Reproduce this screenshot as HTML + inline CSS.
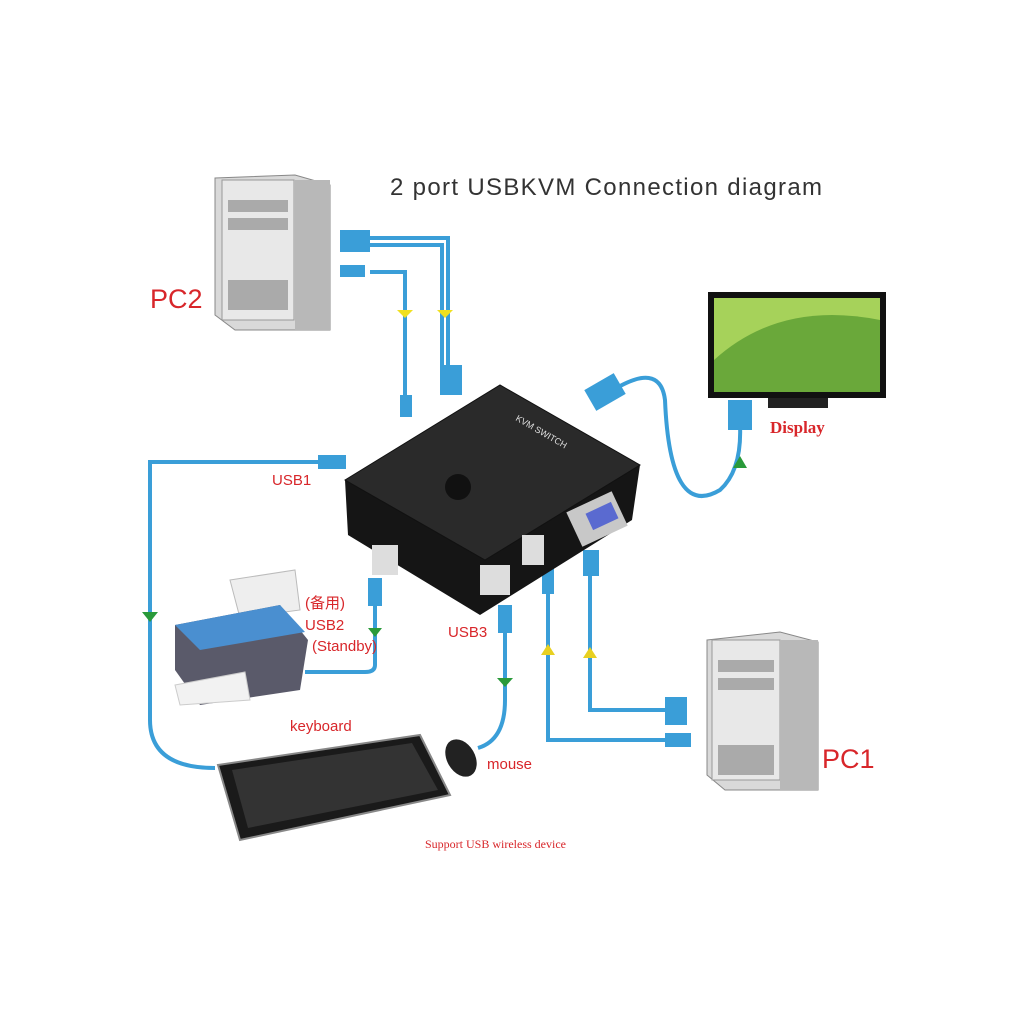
<!DOCTYPE html>
<html><head><meta charset="utf-8"><style>
html,body{margin:0;padding:0;background:#fff;}
svg{display:block}
</style></head><body>
<svg width="1024" height="1024" viewBox="0 0 1024 1024" xmlns="http://www.w3.org/2000/svg">
<rect width="1024" height="1024" fill="#fff"/>
<text x="390" y="195" font-family="Liberation Sans, sans-serif" font-size="24" fill="#333" textLength="432" lengthAdjust="spacing">2 port  USBKVM  Connection diagram</text>

<g fill="none" stroke="#3a9ed8" stroke-width="4">
<path d="M370 238 H448 V370"/><path d="M370 245 H442 V370"/>
<path d="M370 272 H405 V400"/>
<path d="M330 462 H150 V720 Q150 768 215 768"/>
<path d="M375 595 V665 Q375 672 365 672 H305"/>
<path d="M505 615 V700 Q505 740 478 748"/>
<path d="M590 570 V710 H665"/>
<path d="M548 580 V740 H665"/>
<path d="M610 392 Q660 360 665 400 Q670 520 720 490 Q742 470 740 425"/>
</g>
<g fill="#3a9ed8">
<rect x="340" y="230" width="30" height="22"/><rect x="340" y="265" width="25" height="12"/>
<rect x="440" y="365" width="22" height="30"/><rect x="400" y="395" width="12" height="22"/>
<rect x="318" y="455" width="28" height="14"/><rect x="368" y="578" width="14" height="28"/>
<rect x="498" y="605" width="14" height="28"/><rect x="583" y="550" width="16" height="26"/>
<rect x="542" y="568" width="12" height="26"/><rect x="665" y="697" width="22" height="28"/>
<rect x="665" y="733" width="26" height="14"/><rect x="588" y="380" width="34" height="24" transform="rotate(-30 605 392)"/>
<rect x="728" y="400" width="24" height="30"/>
</g>
<g fill="#f0e020"><polygon points="397,310 413,310 405,318"/><polygon points="437,310 453,310 445,318"/></g>
<g fill="#2a9a3a"><polygon points="142,612 158,612 150,622"/><polygon points="368,628 382,628 375,637"/><polygon points="497,678 513,678 505,687"/><polygon points="733,468 747,468 740,456"/></g>
<g fill="#e8d020"><polygon points="541,655 555,655 548,644"/><polygon points="583,658 597,658 590,647"/></g>

<polygon points="215,178 295,175 330,185 330,330 235,330 215,315" fill="#d9d9d9" stroke="#888"/>
<rect x="222" y="180" width="72" height="140" fill="#e8e8e8" stroke="#999"/>
<rect x="295" y="180" width="35" height="150" fill="#b8b8b8"/>
<g fill="#aaa"><rect x="228" y="200" width="60" height="12"/><rect x="228" y="218" width="60" height="12"/><rect x="228" y="280" width="60" height="30"/></g>
<text x="150" y="308" font-family="Liberation Sans, sans-serif" font-size="27" fill="#d8262a">PC2</text>

<rect x="708" y="292" width="178" height="106" fill="#111"/>
<rect x="714" y="298" width="166" height="94" fill="#a6d25a"/>
<path d="M714 360 Q780 300 880 320 L880 392 L714 392Z" fill="#6aa83a"/>
<rect x="768" y="398" width="60" height="10" fill="#222"/>
<text x="770" y="433" font-family="Liberation Serif, serif" font-weight="bold" font-size="17" fill="#d8262a">Display</text>

<polygon points="345,480 348,535 480,615 632,520 640,465 485,560" fill="#151515"/>
<polygon points="345,480 500,385 640,465 485,560" fill="#2a2a2a" stroke="#111"/>
<circle cx="458" cy="487" r="13" fill="#111"/>
<rect x="372" y="545" width="26" height="30" fill="#ddd"/><rect x="480" y="565" width="30" height="30" fill="#ddd"/>
<rect x="522" y="535" width="22" height="30" fill="#ddd"/><rect x="572" y="500" width="50" height="38" fill="#c8c8c8" transform="rotate(-25 597 519)"/>
<rect x="588" y="507" width="28" height="18" fill="#5a6ad0" transform="rotate(-25 602 516)"/>
<text x="515" y="420" font-family="Liberation Sans, sans-serif" font-size="9" fill="#ddd" transform="rotate(30 515 420)">KVM SWITCH</text>

<polygon points="230,580 295,570 300,610 240,618" fill="#eee" stroke="#bbb"/>
<polygon points="175,625 280,605 308,640 300,690 200,705 175,670" fill="#5a5a6a"/>
<polygon points="175,625 280,605 305,632 200,650" fill="#4a8fd0"/>
<polygon points="175,685 245,672 250,700 180,705" fill="#f2f2f2" stroke="#ccc"/>
<text x="305" y="608" font-family="Liberation Sans, Noto Sans CJK SC, sans-serif" font-size="15" fill="#d8262a">(备用)</text>
<text x="305" y="630" font-family="Liberation Sans, sans-serif" font-size="15" fill="#d8262a">USB2</text>
<text x="312" y="651" font-family="Liberation Sans, sans-serif" font-size="15" fill="#d8262a">(Standby)</text>
<text x="272" y="485" font-family="Liberation Sans, sans-serif" font-size="15" fill="#d8262a">USB1</text>
<text x="448" y="637" font-family="Liberation Sans, sans-serif" font-size="15" fill="#d8262a">USB3</text>

<polygon points="218,765 420,735 450,795 240,840" fill="#1a1a1a" stroke="#888" stroke-width="2"/>
<polygon points="232,770 412,743 438,790 248,828" fill="#333"/>
<text x="290" y="731" font-family="Liberation Sans, sans-serif" font-size="15" fill="#d8262a">keyboard</text>
<ellipse cx="461" cy="758" rx="14" ry="20" fill="#222" transform="rotate(-30 461 758)"/>
<text x="487" y="769" font-family="Liberation Sans, sans-serif" font-size="15" fill="#d8262a">mouse</text>
<text x="425" y="848" font-family="Liberation Serif, serif" font-size="12" fill="#d8262a">Support USB wireless device</text>

<polygon points="707,640 780,632 818,642 818,790 725,790 707,775" fill="#d9d9d9" stroke="#888"/>
<rect x="712" y="640" width="68" height="140" fill="#e8e8e8" stroke="#999"/>
<rect x="780" y="640" width="38" height="150" fill="#b8b8b8"/>
<g fill="#aaa"><rect x="718" y="660" width="56" height="12"/><rect x="718" y="678" width="56" height="12"/><rect x="718" y="745" width="56" height="30"/></g>
<text x="822" y="768" font-family="Liberation Sans, sans-serif" font-size="27" fill="#d8262a">PC1</text>
</svg>
</body></html>
